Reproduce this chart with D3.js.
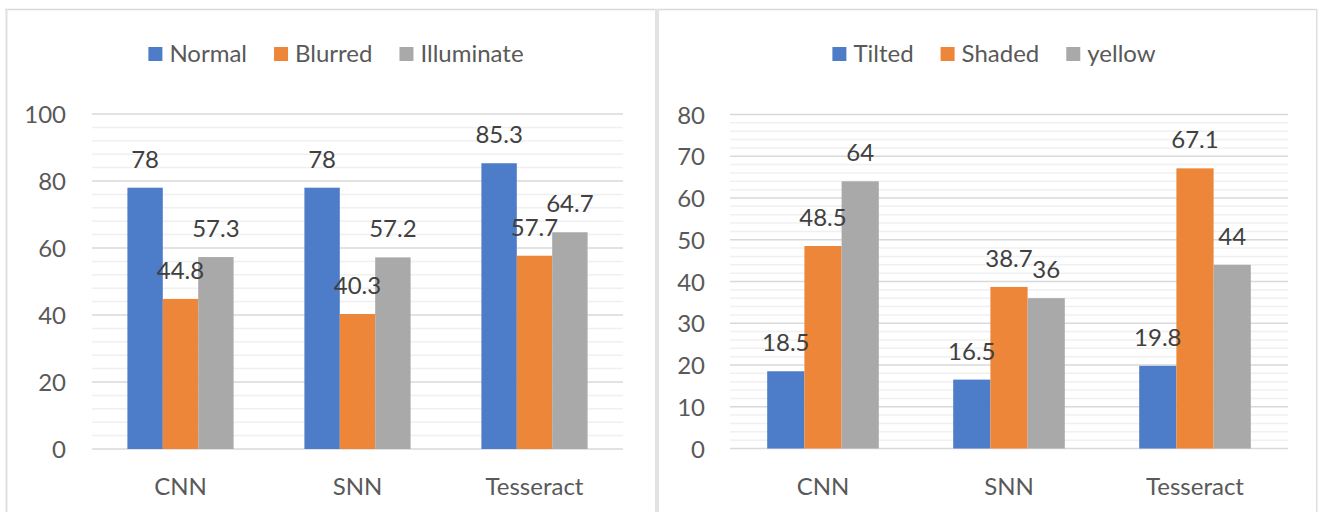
<!DOCTYPE html>
<html><head><meta charset="utf-8">
<script src="https://cdn.jsdelivr.net/npm/d3@7"></script>
<style>html,body{margin:0;padding:0;background:#fff;}svg{display:block;}</style>
</head><body>
<svg id="c" width="1321" height="512"></svg>
<script>
const categories = ["CNN", "SNN", "Tesseract"];

const leftSeriesNames = ["Normal", "Blurred", "Illuminate"];
const normalValues = [78, 78, 85.3];
const blurredValues = [44.8, 40.3, 57.7];
const illuminateValues = [57.3, 57.2, 64.7];
const leftTicks = [0, 20, 40, 60, 80, 100];

const rightSeriesNames = ["Tilted", "Shaded", "yellow"];
const tiltedValues = [18.5, 16.5, 19.8];
const shadedValues = [48.5, 38.7, 67.1];
const yellowValues = [64, 36, 44];
const rightTicks = [0, 10, 20, 30, 40, 50, 60, 70, 80];

const colors = ["#4D7CC9", "#EE8639", "#A9A9A9"];
const FONT = "Lato, 'Open Sans', sans-serif";
const FS = 24;

const svg = d3.select("#c");

// frame
svg.append("line").attr("x1", 5).attr("x2", 1317).attr("y1", 9.5).attr("y2", 9.5).attr("stroke", "#d9d9d9").attr("stroke-width", 1.5);
svg.append("rect").attr("x", 5.5).attr("y", 9).attr("width", 2).attr("height", 503).attr("fill", "#e0e0e0");
svg.append("rect").attr("x", 655).attr("y", 9).attr("width", 4).attr("height", 503).attr("fill", "#e2e2e2");
svg.append("rect").attr("x", 1316).attr("y", 9).attr("width", 1.5).attr("height", 503).attr("fill", "#e0e0e0");

function drawPanel(cfg) {
  const g = svg.append("g");
  const x = d3.scaleBand().domain(categories).range([cfg.x0, cfg.x1]).paddingInner(0.4).paddingOuter(0.2);
  const y = d3.scaleLinear().domain([0, cfg.max]).range([cfg.y0, cfg.y1]);
  const xs = d3.scaleBand().domain(cfg.names).range([0, x.bandwidth()]);

  // minor grid
  const minor = d3.range(0, cfg.max + 0.001, cfg.minorStep).filter(v => cfg.ticks.indexOf(v) < 0);
  g.append("g").selectAll("line").data(minor).join("line")
    .attr("x1", cfg.x0).attr("x2", cfg.x1)
    .attr("y1", d => y(d)).attr("y2", d => y(d))
    .attr("stroke", "#f0f0f0").attr("stroke-width", 1.5);
  // major grid
  g.append("g").selectAll("line").data(cfg.ticks).join("line")
    .attr("x1", cfg.x0).attr("x2", cfg.x1)
    .attr("y1", d => y(d)).attr("y2", d => y(d))
    .attr("stroke", "#d9d9d9").attr("stroke-width", 1.5);

  // y axis labels
  const yAxis = d3.axisLeft(y).tickValues(cfg.ticks).tickSize(0).tickPadding(0).tickFormat(d3.format("d"));
  const ya = g.append("g").attr("transform", `translate(${cfg.labelRight},0)`).call(yAxis);
  ya.select(".domain").remove();
  ya.selectAll("text").attr("font-family", FONT).attr("font-size", FS).attr("fill", "#595959").attr("dy", "0.36em");

  // x axis labels
  const xAxis = d3.axisBottom(x).tickSize(0).tickPadding(0);
  const xa = g.append("g").attr("transform", `translate(0,${cfg.catBaseline})`).call(xAxis);
  xa.select(".domain").remove();
  xa.selectAll("text").attr("font-family", FONT).attr("font-size", FS).attr("fill", "#595959").attr("dy", "0");

  // bars
  cfg.series.forEach((vals, si) => {
    const data = categories.map((c, i) => ({c, v: vals[i]}));
    g.append("g").selectAll("rect").data(data).join("rect")
      .attr("x", d => x(d.c) + xs(cfg.names[si]))
      .attr("width", xs.bandwidth())
      .attr("y", d => y(d.v))
      .attr("height", d => y(0) - y(d.v))
      .attr("fill", colors[si]);
  });
  // labels
  cfg.series.forEach((vals, si) => {
    const data = categories.map((c, i) => ({c, v: vals[i]}));
    g.append("g").selectAll("text").data(data).join("text")
      .attr("x", d => x(d.c) + xs(cfg.names[si]) + xs.bandwidth() / 2)
      .attr("y", d => y(d.v) - 20)
      .attr("text-anchor", "middle")
      .attr("font-family", FONT).attr("font-size", FS).attr("fill", "#404040")
      .text(d => String(d.v));
  });

  // legend
  const lg = g.append("g");
  let cx = 0;
  const items = [];
  cfg.names.forEach((n, i) => {
    const it = lg.append("g");
    it.append("rect").attr("x", 0).attr("y", -15).attr("width", 14).attr("height", 14).attr("fill", colors[i]);
    const t = it.append("text").attr("x", 21).attr("y", 0).attr("font-family", FONT).attr("font-size", FS).attr("fill", "#595959").text(n);
    const w = 21 + t.node().getComputedTextLength();
    it.attr("transform", `translate(${cx},0)`);
    cx += w + 27;
  });
  const total = cx - 27;
  lg.attr("transform", `translate(${cfg.legendCenter - total / 2},${cfg.legendBaseline})`);
}

drawPanel({
  x0: 92, x1: 623, y0: 449, y1: 114, max: 100, ticks: leftTicks, minorStep: 4,
  names: leftSeriesNames, series: [normalValues, blurredValues, illuminateValues],
  labelRight: 66, catBaseline: 495, legendCenter: 336, legendBaseline: 62
});
drawPanel({
  x0: 730, x1: 1288, y0: 448.5, y1: 114.5, max: 80, ticks: rightTicks, minorStep: 2,
  names: rightSeriesNames, series: [tiltedValues, shadedValues, yellowValues],
  labelRight: 705, catBaseline: 495, legendCenter: 994, legendBaseline: 62
});
</script>
</body></html>
